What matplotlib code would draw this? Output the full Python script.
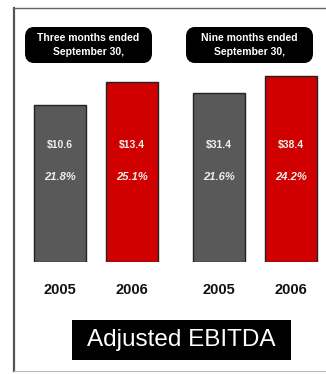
import matplotlib
matplotlib.use("Agg")
import matplotlib.pyplot as plt
from matplotlib.patches import FancyBboxPatch, Rectangle
from matplotlib.lines import Line2D

plt.rcParams['font.family'] = ['Liberation Sans', 'DejaVu Sans']

# ---- data ----
group_titles = ["Three months ended\nSeptember 30,", "Nine months ended\nSeptember 30,"]
years = ["2005", "2006"]
ebitda_3m = [10.6, 13.4]
margin_3m = ["21.8%", "25.1%"]
ebitda_9m = [31.4, 38.4]
margin_9m = ["21.6%", "24.2%"]
value_labels_3m = ["$10.6", "$13.4"]
value_labels_9m = ["$31.4", "$38.4"]
title = "Adjusted EBITDA"

W, H = 326, 374
fig = plt.figure(figsize=(W / 100, H / 100), dpi=100)
fig.patch.set_facecolor("white")

def fx(px):
    return px / W

def fy(py):
    return 1 - py / H

bar_colors = ["#595959", "#d00000"]

# axes per group: (left px, right px, value scale baseline, ylim top)
groups = [
    (ebitda_3m, margin_3m, value_labels_3m, 20, 170, -8.5, 14.9),
    (ebitda_9m, margin_9m, value_labels_9m, 179, 329, -38.2, 40.8),
]
ax_top_px, ax_bot_px = 70, 262
for vals, margins, vlabels, l, r, ylo, yhi in groups:
    ax = fig.add_axes([fx(l), fy(ax_bot_px), fx(r - l), (ax_bot_px - ax_top_px) / H])
    ax.set_xlim(0, 150)
    ax.set_ylim(ylo, yhi)
    xs = [40, 112]
    heights = [v - ylo for v in vals]
    ax.bar(xs, heights, bottom=ylo, width=52, color=bar_colors,
           edgecolor="#222222", linewidth=1.0)
    ax.axis("off")
    for x, vl, m, yr in zip(xs, vlabels, margins, years):
        xp = l + x
        fig.text(fx(xp), fy(145), vl, ha="center", va="center",
                 color="#eeeeee", fontsize=7.5, fontweight="bold")
        fig.text(fx(xp), fy(177), m, ha="center", va="center",
                 color="#eeeeee", fontsize=8, fontstyle="italic", fontweight="bold")
        fig.text(fx(xp), fy(290), yr, ha="center", va="center",
                 color="#111111", fontsize=10.5, fontweight="bold")

# header boxes
for (x0, x1), t in zip([(25, 152), (186, 313)], group_titles):
    box = FancyBboxPatch((fx(x0 + 4), fy(63 - 4)), fx(x1 - x0 - 8), (36 - 8) / H,
                         boxstyle="round,pad=0.0,rounding_size=0.015",
                         transform=fig.transFigure, facecolor="black",
                         edgecolor="black", linewidth=8 * 0.72)
    fig.patches.append(box)
    fig.text(fx((x0 + x1) / 2), fy(45), t, ha="center", va="center",
             color="white", fontsize=7.5, fontweight="bold", linespacing=1.45)

# bottom title box
fig.patches.append(Rectangle((fx(72), fy(360)), fx(291 - 72), (360 - 320) / H,
                             transform=fig.transFigure, facecolor="black",
                             edgecolor="none"))
fig.text(fx(181.5), fy(340), title, ha="center", va="center",
         color="white", fontsize=17.5)

# frame
fig.lines.append(Line2D([fx(14), fx(14)], [fy(8), fy(371)], transform=fig.transFigure,
                        color="#555555", linewidth=1.6))
fig.lines.append(Line2D([fx(14), fx(326)], [fy(8), fy(8)], transform=fig.transFigure,
                        color="#666666", linewidth=1.0))
fig.lines.append(Line2D([fx(14), fx(326)], [fy(371), fy(371)], transform=fig.transFigure,
                        color="#bbbbbb", linewidth=0.8))

fig.savefig("out.png", dpi=100)
